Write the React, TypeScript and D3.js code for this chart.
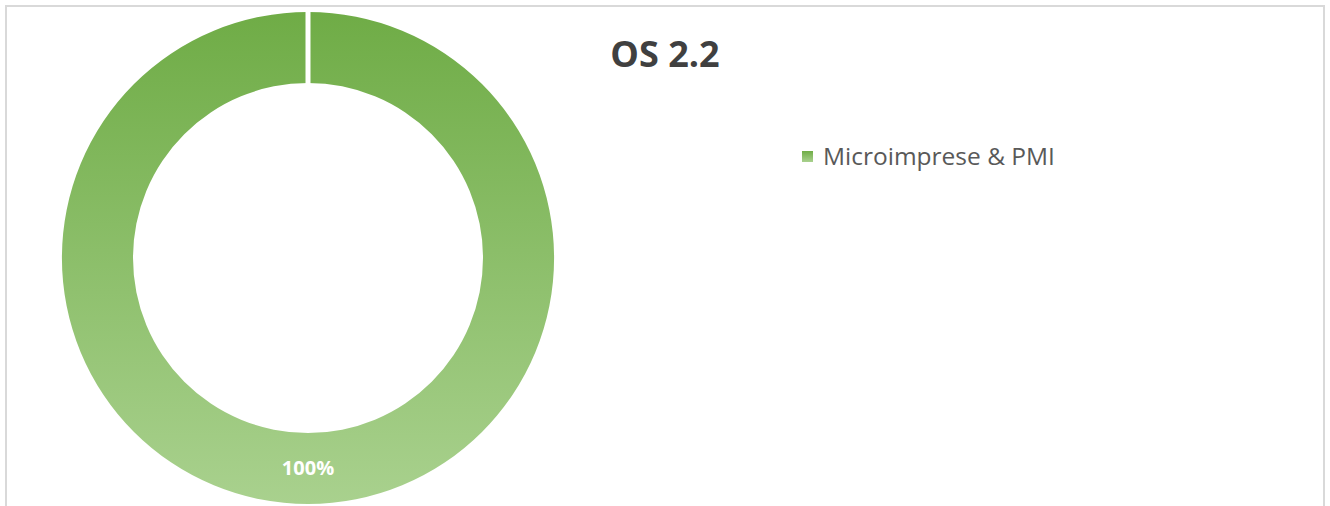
import React from 'react';
import * as d3 from 'd3';

const categories = ['Microimprese & PMI'];
const values = [100];
const chartTitle = 'OS 2.2';

const width = 1330;
const height = 506;
const cx = 308;
const cy = 258;
const outerR = 246;
const innerR = 175;

const App = () => {
  const total = d3.sum(values);
  const pie = d3.pie<number>().sort(null).padAngle(0)(values);
  const arc = d3.arc<d3.PieArcDatum<number>>().innerRadius(innerR).outerRadius(outerR);
  const font = '"Open Sans", "Liberation Sans", sans-serif';

  return (
    <svg
      width={width}
      height={height}
      style={{ position: 'absolute', left: 0, top: 0, background: '#fff' }}
    >
      <defs>
        <linearGradient id="ringFill" x1="0" y1="0" x2="0" y2="1">
          <stop offset="0%" stopColor="#6fac46" />
          <stop offset="100%" stopColor="#a9d18e" />
        </linearGradient>
        <linearGradient id="legFill" x1="0" y1="0" x2="0" y2="1">
          <stop offset="0%" stopColor="#70ad47" />
          <stop offset="100%" stopColor="#a9d18e" />
        </linearGradient>
      </defs>
      <rect x={6} y={6} width={1318} height={510} fill="none" stroke="#d9d9d9" strokeWidth={2} />
      <g transform={`translate(${cx},${cy})`}>
        {pie.map((d, i) => (
          <path key={i} d={arc(d) ?? ''} fill="url(#ringFill)" />
        ))}
        {/* slice separator at 12 o'clock */}
        <line x1={0} y1={-outerR - 2} x2={0} y2={-innerR + 2} stroke="#fff" strokeWidth={5} />
        {pie.map((d, i) => {
          const label = `${Math.round((d.data / total) * 100)}%`;
          return (
            <text
              key={'l' + i}
              x={0}
              y={outerR - 29}
              textAnchor="middle"
              fontFamily={font}
              fontWeight={700}
              fontSize={20}
              fill="#fff"
            >
              {label}
            </text>
          );
        })}
      </g>
      <text
        x={665}
        y={67}
        textAnchor="middle"
        fontFamily={font}
        fontWeight={700}
        fontSize={36}
        fill="#404040"
      >
        {chartTitle}
      </text>
      {categories.map((c, i) => (
        <g key={c} transform={`translate(802,${151 + i * 30})`}>
          <rect width={11} height={11} fill="url(#legFill)" />
          <text x={21} y={14} fontFamily={font} fontSize={24.5} fill="#595959">
            {c}
          </text>
        </g>
      ))}
    </svg>
  );
};

export default App;
